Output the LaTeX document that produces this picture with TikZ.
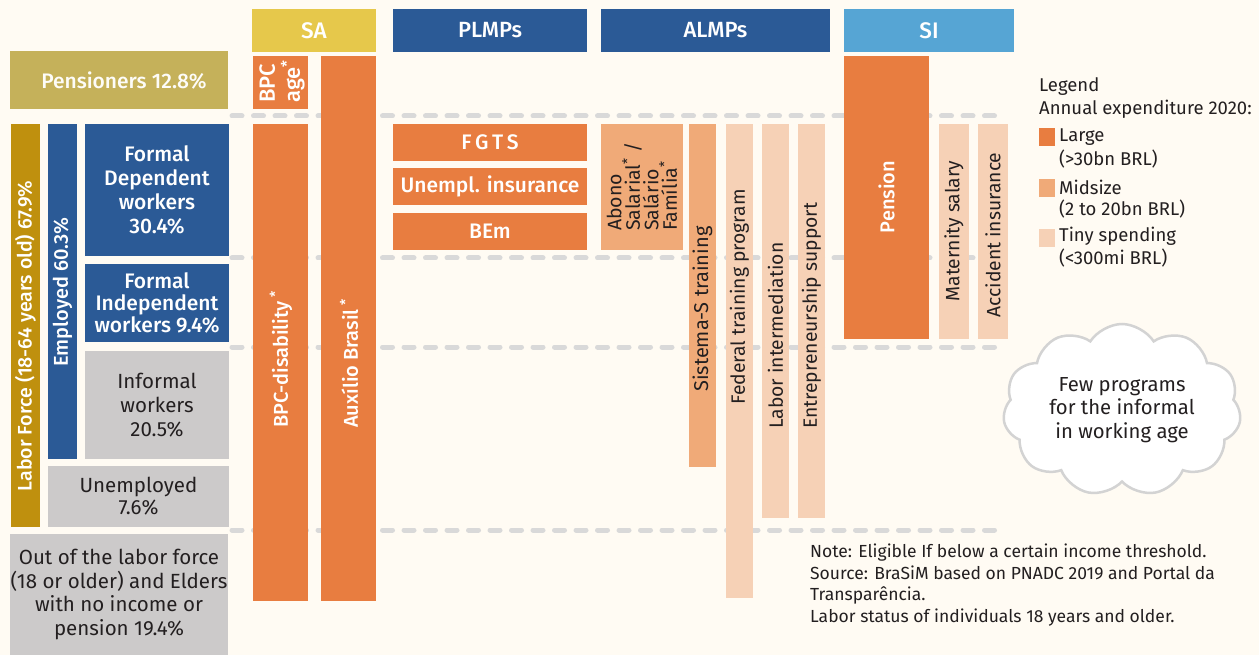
\documentclass[tikz,border=0pt]{standalone}
\usepackage{fontspec}
\setmainfont{Fira Sans}[BoldFont={Fira Sans Medium}]
\usetikzlibrary{shapes.symbols}

\definecolor{bgc}{HTML}{FFFBF3}
\definecolor{saY}{HTML}{E6C84B}
\definecolor{blueC}{HTML}{2B5A96}
\definecolor{siC}{HTML}{56A5D4}
\definecolor{penC}{HTML}{C5B15A}
\definecolor{lfC}{HTML}{BF900E}
\definecolor{grayC}{HTML}{CCCACA}
\definecolor{large}{HTML}{E87D40}
\definecolor{mid}{HTML}{F0AA78}
\definecolor{tiny}{HTML}{F6D1B6}
\definecolor{sepC}{HTML}{D9D9D9}
\definecolor{ink}{HTML}{231F20}
\definecolor{cloudC}{HTML}{D3D3D3}

\newcommand\fsz[2]{\fontsize{#1}{#2}\selectfont}

\tikzset{
  box/.style={anchor=north west, inner sep=0pt, outer sep=0pt, align=center},
  wlab/.style={text=white, font=\fsz{21}{24}\bfseries},
  dlab/.style={text=ink, font=\fsz{20.5}{24}},
  vlab/.style={rotate=90, inner sep=0pt, align=left},
  sepline/.style={draw=sepC, line width=5pt, line cap=round, dash pattern=on 10pt off 11.5pt},
  swatch/.style={anchor=north west, inner sep=0pt, minimum width=16, minimum height=18},
  legtext/.style={anchor=west, inner sep=0pt, text=ink, font=\fsz{18.5}{22}},
}

\begin{document}
\begin{tikzpicture}[x=1pt, y=-1pt]
\fill[bgc] (0,0) rectangle (1259,655);
\useasboundingbox (0,0) rectangle (1259,655);

% row separators
\foreach \yy in {116,258,347,530}
  \draw[sepline] (232,\yy) -- (997,\yy);

% column headers
\node[box, fill=saY,   minimum width=124, minimum height=43, wlab, font=\fsz{22.5}{26}\bfseries] (sa)    at (252,9) {SA};
\node[box, fill=blueC, minimum width=194, minimum height=43, wlab, font=\fsz{22}{26}\bfseries] (plmps) at (393,9) {PLMPs};
\node[box, fill=blueC, minimum width=229, minimum height=43, wlab, font=\fsz{22}{26}\bfseries] (almps) at (601,9) {ALMPs};
\node[box, fill=siC,   minimum width=170, minimum height=43, wlab, font=\fsz{22.5}{26}\bfseries] (si)    at (844,9) {SI};

% population groups
\node[box, fill=penC, minimum width=218, minimum height=58] (pens) at (10,51) {};
\node[wlab, text=white!96!penC] (penst) at (124,81) {Pensioners 12.8\%};
\node[box, fill=lfC, minimum width=29, minimum height=403] (lf) at (11,124) {};
\node[vlab, wlab, font=\fsz{19.6}{23}\bfseries] (lft) at (25.5,336) {Labor Force (18-64 years old) 67.9\%};
\node[box, fill=blueC, minimum width=29, minimum height=335] (emp) at (48,124) {};
\node[vlab, wlab, font=\fsz{20}{23}\bfseries] (empt) at (62.5,292) {Employed 60.3\%};
\node[box, fill=blueC, minimum width=144, minimum height=132, wlab] (fdep) at (85,124) {Formal\\Dependent\\workers\\30.4\%};
\node[box, fill=blueC, minimum width=144, minimum height=78, wlab, font=\fsz{21}{22}\bfseries] (find) at (85,264) {Formal\\Independent\\workers 9.4\%};
\node[box, fill=grayC, minimum width=144, minimum height=108, dlab] (inf) at (85,351) {Informal\\workers\\20.5\%};
\node[box, fill=grayC, minimum width=181, minimum height=61, dlab, font=\fsz{20.5}{22}] (unemp) at (48,466) {Unemployed\\7.6\%};
\node[box, fill=grayC, minimum width=218, minimum height=121, dlab, font=\fsz{20.5}{23.5}] (olf) at (10,534) {Out of the labor force\\(18 or older) and Elders\\with no income or\\pension 19.4\%};

% social assistance
\node[box, fill=large, minimum width=55, minimum height=53] (bpca) at (253,56) {};
\node[vlab, anchor=west, text=white, font=\fsz{22}{25}\bfseries] (bpcat) at (282,103) {BPC\\age\textsuperscript{*}};
\node[box, fill=large, minimum width=55, minimum height=477] (bpcd) at (253,124) {};
\node[vlab, anchor=west, text=white, font=\fsz{20}{23}\bfseries] (bpcdt) at (281,428) {BPC-disability\,\textsuperscript{*}};
\node[box, fill=large, minimum width=55, minimum height=545] (aux) at (321,56) {};
\node[vlab, anchor=west, text=white, font=\fsz{20}{23}\bfseries] (auxt) at (349,428) {Auxílio Brasil\,\textsuperscript{*}};

% passive labour market programmes
\node[box, fill=large, minimum width=194, minimum height=37, wlab, font=\fsz{21}{23}\bfseries] (fgts) at (393,124) {F\,G\,T\,S};
\node[box, fill=large, minimum width=194, minimum height=37, wlab, font=\fsz{21}{23}\bfseries] (ui)   at (393,168) {Unempl. insurance};
\node[box, fill=large, minimum width=194, minimum height=37, wlab, font=\fsz{21}{23}\bfseries] (bem)  at (393,213) {BEm};

% active labour market programmes
\node[box, fill=mid, minimum width=82, minimum height=126] (abono) at (601,124) {};
\node[vlab, anchor=west, text=ink, font=\fsz{19.5}{18.5}] (abonot) at (642,231) {Abono\\Salarial\textsuperscript{*} /\\Salário\\Família\textsuperscript{*}};
\node[box, fill=mid, minimum width=27, minimum height=343] (sis) at (689,124) {};
\node[vlab, anchor=west, text=ink, font=\fsz{20}{23}] (sist) at (702.5,392) {Sistema-S training};
\node[box, fill=tiny, minimum width=27, minimum height=474] (fed) at (726,124) {};
\node[vlab, anchor=west, text=ink, font=\fsz{19.3}{23}] (fedt) at (739.5,405) {Federal training program};
\node[box, fill=tiny, minimum width=27, minimum height=394] (lint) at (762,124) {};
\node[vlab, anchor=west, text=ink, font=\fsz{19.3}{23}] (lintt) at (775.5,429) {Labor intermediation};
\node[box, fill=tiny, minimum width=27, minimum height=394] (ent) at (798,124) {};
\node[vlab, anchor=west, text=ink, font=\fsz{19.3}{23}] (entt) at (811.5,429) {Entrepreneurship support};

% social insurance
\node[box, fill=large, minimum width=85, minimum height=283] (pen) at (844,56) {};
\node[vlab, wlab, font=\fsz{20}{23}\bfseries] (pent) at (886.5,197) {Pension};
\node[box, fill=tiny, minimum width=30, minimum height=215] (mat) at (939,124) {};
\node[vlab, text=ink, font=\fsz{19.3}{23}] (matt) at (954,231) {Maternity salary};
\node[box, fill=tiny, minimum width=30, minimum height=215] (acc) at (978,124) {};
\node[vlab, text=ink, font=\fsz{19.3}{23}] (acct) at (993,235) {Accident insurance};

% legend
\node[legtext] (leg1) at (1039,87) {Legend};
\node[legtext] (leg2) at (1039,109) {Annual expenditure 2020:};
\node[swatch, fill=large] (swl) at (1039,128) {};
\node[legtext] (swlt1) at (1059,137) {Large};
\node[legtext] (swlt2) at (1059,159) {(>30bn BRL)};
\node[swatch, fill=mid] (swm) at (1039,179) {};
\node[legtext] (swmt1) at (1059,187) {Midsize};
\node[legtext] (swmt2) at (1059,209) {(2 to 20bn BRL)};
\node[swatch, fill=tiny] (swt) at (1039,229) {};
\node[legtext] (swtt1) at (1059,236) {Tiny spending};
\node[legtext] (swtt2) at (1059,258) {(<300mi BRL)};

% callout
\node[cloud, cloud puffs=11, cloud puff arc=115, cloud ignores aspect,
      minimum width=238, minimum height=172, draw=cloudC, line width=2.5pt,
      fill=white, align=center, text=ink, font=\fsz{20.3}{23.5}] (cloud) at (1122,410)
  {Few programs\\for the informal\\in working age};

% notes
\node[anchor=north west, inner sep=0pt, align=left, text=ink, font=\fsz{17.5}{21.5}] (note) at (810,544)
  {Note: Eligible If below a certain income threshold.\\
   Source: BraSiM based on PNADC 2019 and Portal da\\
   Transparência.\\
   Labor status of individuals 18 years and older.};
\end{tikzpicture}
\end{document}
